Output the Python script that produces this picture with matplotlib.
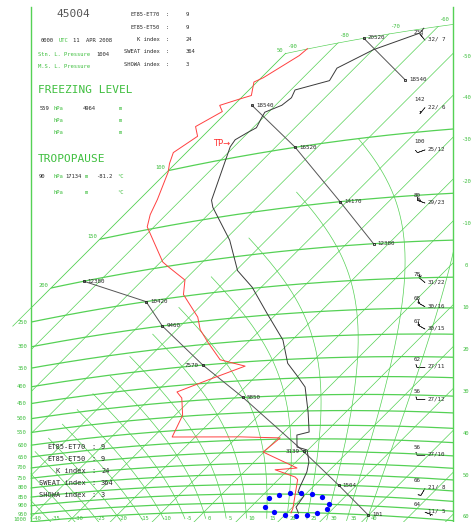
import numpy as np
import matplotlib.pyplot as plt
from matplotlib.path import Path
from matplotlib.patches import PathPatch

# ---- sounding 45004, 0000 UTC 11 APR 2008 (hPa, degC) ----
temp_p = [1004, 970, 908, 889, 862, 790, 745, 694, 682, 635, 624, 554, 476, 447, 410,
          354, 296, 248, 220, 178, 139, 132, 100, 92, 88, 85, 83, 77.5, 75, 73, 70,
          66.5, 65, 60, 55, 51.5, 50]
temp_t = [22.8, 20.8, 20.0, 17.7, 16.9, 15.0, 13.1, 9.8, 6.7, 3.8, 6.0, 1.0, -5.7, -9.8,
          -15.5, -22.2, -32.5, -42.2, -49.6, -58.7, -70.6, -72.6, -79.0, -80.9, -81.4,
          -80.2, -79.2, -80.4, -80.9, -78.5, -78.0, -79.0, -73.0, -74.2, -69.9, -62.8, -63.0]
dewp_p = [1004, 976, 826, 814, 780, 772, 701, 645, 637, 624, 546, 489, 469, 441, 411,
          401, 390, 347, 317, 291, 247, 224, 200, 193, 147, 135, 122, 101, 95, 88, 81,
          75, 70, 66.5, 65.5, 65, 59, 58, 52, 50]
dewp_t = [21.0, 20.3, 14.6, 13.4, 6.9, 11.7, -0.2, 0.5, -9.3, -25.5, -28.2, -32.5, -35.1,
          -30.5, -25.0, -28.6, -32.5, -39.4, -44.4, -48.0, -56.8, -59.9, -67.3, -69.5,
          -81.6, -83.8, -85.7, -89.7, -91.4, -93.1, -91.2, -94.0, -91.2, -93.3, -90.0,
          -88.1, -90.7, -89.5, -86.2, -85.9]

# standard level heights (m)
hgt_p = [1000, 850, 700, 500, 400, 300, 250, 200, 150, 100, 70, 50]
hgt_m = [101, 1504, 3139, 5850, 7570, 9460, 10420, 12380, 14170, 16520, 18540, 20520]

# upper winds: level, first number, direction (tens of deg) / speed
wind_p = [54, 85, 112, 157, 256, 296, 338, 423, 510, 699, 842, 961]
wind_n = ['233', '142', '100', '80', '78', '68', '67', '62', '56', '56', '66', '64']
wind_dir = [32, 22, 25, 29, 31, 30, 30, 27, 27, 27, 21, 11]
wind_spd = [7, 6, 12, 23, 22, 16, 15, 11, 12, 10, 8, 5]

idx_names = ['ET85-ET70', 'ET85-ET50', 'K index', 'SWEAT index', 'SHOWA index']
idx_vals = ['9', '9', '24', '364', '3']

ring_x = [269, 279, 290, 301, 312, 322, 329, 327, 317, 307, 296, 285, 274, 265]
ring_y = [498, 495, 493, 493, 494, 497, 504, 509, 513, 515, 516, 515, 512, 507]

isobars = [1000, 950, 900, 850, 800, 750, 700, 650, 600, 550, 500, 450, 400, 350,
           300, 250, 200, 150, 100, 50]
isotherms = list(range(-90, 61, 10))
theta_w = list(range(-40, 41, 5))

# ---- tephigram geometry (pixels) ----
K, C, KAP = 2.095, 283.0, 0.2857
X0, Y0 = 203.8, 512.2
XL, XR, YB = 30.5, 453.0, 522.0


def tephi(t, p):
    t = np.asarray(t, float)
    p = np.asarray(p, float)
    s = C * np.log((t + 273.15) / 273.15) + C * KAP * np.log(1000.0 / p)
    return X0 + K * (t + s), Y0 - K * (s - t)


def isobar_y(p, x):
    tt = np.linspace(-140, 90, 3000)
    xx, yy = tephi(tt, p)
    return np.interp(x, xx, yy)


def lapse(t, p):
    tk = t + 273.15
    es = 6.112 * np.exp(17.67 * t / (t + 243.5))
    rs = 0.622 * es / (p - es)
    return (287.04 * tk + 2.501e6 * rs) / (1005.7 + 2.501e6 ** 2 * rs * 0.622 / (287.04 * tk * tk)) / p


def moist(tw, p_top=100.0, t_end=-55.0):
    ps = np.arange(1000.0, p_top - 1, -2.0)
    ts = [tw]
    for i in range(1, len(ps)):
        dp = ps[i] - ps[i - 1]
        k1 = lapse(ts[-1], ps[i - 1])
        k2 = lapse(ts[-1] + k1 * dp, ps[i])
        ts.append(ts[-1] + 0.5 * (k1 + k2) * dp)
    pd = np.arange(1000.0, 1041.0, 4.0)
    td = [tw]
    for i in range(1, len(pd)):
        td.append(td[-1] + lapse(td[-1], pd[i - 1]) * (pd[i] - pd[i - 1]))
    p_all = np.concatenate([pd[::-1], ps[1:]])
    t_all = np.concatenate([np.array(td)[::-1], np.array(ts)[1:]])
    keep = t_all >= t_end
    return t_all[keep], p_all[keep]


GRID = '#55d155'
GTXT = '#3fbf3f'
DARK = '#2a2a2a'
MONO = 'DejaVu Sans Mono'
FS = 4.0

fig = plt.figure(figsize=(4.72, 5.22), dpi=100)
ax = fig.add_axes([0, 0, 1, 1])
ax.set_xlim(0, 472)
ax.set_ylim(522, 0)
ax.axis('off')

# clip region: left/right borders, -90 isotherm and 50 hPa isobar
pp = np.geomspace(50, 1000, 500)
ix, iy = tephi(-90, pp)
m = ix >= XL
tt = np.linspace(-90, -20, 500)
tx, ty = tephi(tt, 50)
m2 = tx <= XR
verts = ([(XL, YB)] + list(zip(ix[m][::-1], iy[m][::-1])) +
         list(zip(tx[m2], ty[m2])) + [(XR, ty[m2][-1]), (XR, YB), (XL, YB)])
clip = PathPatch(Path(verts), transform=ax.transData, fill=False, lw=0)


def gline(x, y, lw=0.5):
    ln, = ax.plot(x, y, color=GRID, lw=lw, solid_capstyle='butt')
    ln.set_clip_path(clip)


# isobars
tt = np.linspace(-140, 90, 800)
for p in isobars:
    x, y = tephi(tt, p)
    gline(x, y, lw=0.9)

# isotherms
pp = np.geomspace(40, 1100, 300)
for t in isotherms:
    x, y = tephi(t, pp)
    gline(x, y, lw=0.5)

# -90 isotherm runs a bit past the left border
x, y = tephi(-90, np.geomspace(50, 1100, 400))
ax.plot(x[x >= 12], y[x >= 12], color=GRID, lw=0.5)

# saturated adiabats
for tw in theta_w:
    t_m, p_m = moist(tw)
    x, y = tephi(t_m, p_m)
    gline(x, y, lw=0.5)

# frame lines
ax.plot([XL, XL], [7, YB], color=GRID, lw=1.0)
ax.plot([XR, XR], [7, YB], color=GRID, lw=1.0)

# pressure labels
for p in isobars:
    if p >= 250:
        lx = 19.5 if p == 1000 else 22
        ax.text(lx, min(isobar_y(p, XL), 519.5), str(p), color=GTXT, fontsize=FS,
                family=MONO, ha='center', va='center')
    else:
        xs, ys = tephi(-90, p)
        ax.text(xs - 3, ys - 3, str(p), color=GTXT, fontsize=FS, family=MONO,
                ha='right', va='center')

# isotherm labels: top, right and bottom (bottom ones at the 1000 hPa crossing)
for t in [-90, -80, -70, -60]:
    xs, ys = tephi(t, 50)
    ax.text(xs + 1, ys - 7, str(t), color=GTXT, fontsize=FS, family=MONO,
            ha='left', va='center')
pp = np.geomspace(20, 1300, 2000)
for t in range(-50, 61, 10):
    x, y = tephi(t, pp)
    ax.text(466, np.interp(XR, x[::-1], y[::-1]) + 2.5, str(t), color=GTXT,
            fontsize=FS, family=MONO, ha='center', va='center')
for t in range(-40, 41, 5):
    xs, ys = tephi(t, 1000)
    ax.text(max(xs + 5.5, 35.5), 519, str(t), color=GTXT, fontsize=FS, family=MONO,
            ha='center', va='center')

# height scale line (wraps round at the left edge)
hgt_segments = [[1000, 850, 700, 500, 400, 300, 250, 200], [200, 150, 100, 70], [70, 50]]
seg_shift = [0.0, 60.2, 90.7]
for seg, shift in zip(hgt_segments, seg_shift):
    hs = [hgt_m[hgt_p.index(p)] for p in seg]
    ts = [40.9 - h / 99.3 + shift for h in hs]
    x, y = tephi(ts, seg)
    ax.plot(x, y, color='#555555', lw=0.7)
    ax.plot(x, y, 's', ms=2.0, mfc='none', mec='#222222', mew=0.6)
    for xi, yi, p, h in zip(x, y, seg, hs):
        if p in (400, 700):
            ax.text(xi - 4, yi, str(h), fontsize=4.2, family=MONO, color=DARK,
                    ha='right', va='center')
        else:
            ax.text(xi + 4, yi, str(h), fontsize=4.2, family=MONO, color=DARK,
                    ha='left', va='center')

# temperature and dew point
x, y = tephi(temp_t, temp_p)
ax.plot(x, y, color='#3a3a3a', lw=0.7)
x, y = tephi(dewp_t, dewp_p)
ax.plot(x, y, color='#ff4040', lw=0.7)

# tropopause mark
xs, ys = tephi(-81.2, 90)
ax.text(xs - 2, ys, 'TP\u2192', color='#ff3030', fontsize=6, ha='right', va='center')

# ring of dots
ax.plot(ring_x, ring_y, 'o', color='#0000ff', ms=3.8, mec='none')

# winds
wy = np.array([isobar_y(p, 425) for p in wind_p])
wd = np.radians(np.array(wind_dir) * 10.0)
ws = np.array(wind_spd, float)
ax.barbs(np.full(len(wy), 425.0), wy + 1, -ws * np.sin(wd), -ws * np.cos(wd),
         length=3.4, linewidth=0.45, color=DARK, sizes=dict(spacing=0.2, height=0.35))
for yy, n, d, s in zip(wy, wind_n, wind_dir, wind_spd):
    ax.text(414, yy - 7, n, fontsize=4.2, family=MONO, color=DARK, ha='left', va='center')
    ax.text(428, yy, '%d/%2d' % (d, s), fontsize=4.2, family=MONO, color=DARK,
            ha='left', va='center')

# header block
ax.text(56, 14, '45004', fontsize=8.0, family=MONO, color='#555555', va='center')
for i, (n, v) in enumerate(zip(idx_names, idx_vals)):
    yy = 15 + 12.3 * i
    ax.text(160, yy, n, fontsize=FS, family=MONO, color=DARK, ha='right', va='center')
    ax.text(166, yy, ':', fontsize=FS, family=MONO, color=DARK, va='center')
    ax.text(186, yy, v, fontsize=FS, family=MONO, color=DARK, va='center')


def tx_row(y, parts):
    for x, s, c in parts:
        ax.text(x, y, s, fontsize=FS, family=MONO, color=c, va='center')


tx_row(40, [(41, '0000', DARK), (59, 'UTC', GTXT), (73, '11  APR 2008', DARK)])
tx_row(54, [(38, 'Stn. L. Pressure', GTXT), (96, '1004', DARK)])
tx_row(66, [(38, 'M.S. L. Pressure', GTXT)])
ax.text(38, 90, 'FREEZING LEVEL', fontsize=8.0, family=MONO, color=GTXT, va='center')
tx_row(108, [(40, '559', DARK), (54, 'hPa', GTXT), (83, '4964', DARK), (119, 'm', GTXT)])
tx_row(120, [(54, 'hPa', GTXT), (119, 'm', GTXT)])
tx_row(132, [(54, 'hPa', GTXT), (119, 'm', GTXT)])
ax.text(38, 159, 'TROPOPAUSE', fontsize=8.0, family=MONO, color=GTXT, va='center')
tx_row(177, [(39, '90', DARK), (54, 'hPa', GTXT), (65, '17134', DARK), (85, 'm', GTXT),
             (96, '-81.2', DARK), (117, '\u00b0C', GTXT)])
tx_row(192, [(54, 'hPa', GTXT), (85, 'm', GTXT), (117, '\u00b0C', GTXT)])

# index block inside the diagram
for i, (n, v) in enumerate(zip(idx_names, idx_vals)):
    yy = 447 + 12.1 * i
    ax.text(86, yy, n, fontsize=5.0, family=MONO, color=DARK, ha='right', va='center')
    ax.text(91, yy, ':', fontsize=5.0, family=MONO, color=DARK, va='center')
    ax.text(101, yy, v, fontsize=5.0, family=MONO, color=DARK, va='center')

fig.savefig('out.png', dpi=100)
